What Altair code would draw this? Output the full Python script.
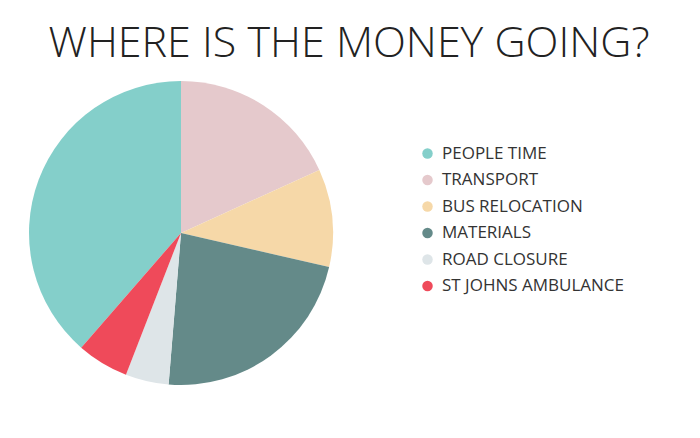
import altair as alt
import pandas as pd

categories = ["PEOPLE TIME", "TRANSPORT", "BUS RELOCATION", "MATERIALS", "ROAD CLOSURE", "ST JOHNS AMBULANCE"]
values = [38.6, 18.2, 10.4, 22.7, 4.6, 5.5]
pie_order = [5, 0, 1, 2, 3, 4]
colors = ["#84CFCA", "#E5C9CC", "#F6D8A8", "#648A89", "#DEE5E8", "#EF4A5A"]
title_text = "WHERE IS THE MONEY GOING?"

df = pd.DataFrame({"category": categories, "value": values, "ord": pie_order})

FONT = "Open Sans"

pie = alt.Chart(df).mark_arc(radius=152).encode(
    theta=alt.Theta("value:Q", stack=True),
    order=alt.Order("ord:Q", sort="ascending"),
    color=alt.Color(
        "category:N",
        scale=alt.Scale(domain=categories, range=colors),
        sort=categories,
        legend=alt.Legend(
            title=None,
            orient="none",
            legendX=411,
            legendY=137,
            symbolType="circle",
            symbolSize=110,
            symbolStrokeWidth=0,
            labelFont=FONT,
            labelFontSize=17,
            labelColor="#333333",
            labelLimit=400,
            rowPadding=8.5,
            symbolOffset=0,
            labelOffset=6,
        ),
    ),
    x=alt.value(173),
    y=alt.value(225),
)

title = alt.Chart(pd.DataFrame({"t": [title_text]})).mark_text(
    font=FONT, fontSize=43, fontWeight=300, color="#222222", baseline="middle", align="center"
).encode(
    text="t:N",
    x=alt.value(341),
    y=alt.value(36),
)

chart = alt.layer(pie, title).properties(
    width=676, height=410, autosize=alt.AutoSizeParams(type="none"), padding=0,
    background="white",
).configure_view(stroke=None, strokeWidth=0)

chart.save("out.html", embed_options={"renderer": "svg", "actions": False})
